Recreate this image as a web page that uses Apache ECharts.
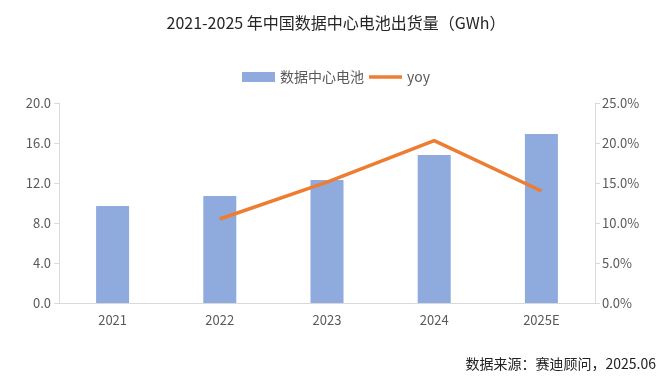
<!DOCTYPE html>
<html><head><meta charset="utf-8">
<script src="https://cdn.jsdelivr.net/npm/echarts@6/dist/echarts.min.js"></script>
<style>html,body{margin:0;padding:0;background:#fff}#c{width:672px;height:383px}</style>
</head><body><div id="c"></div>
<script>
const categories = ['2021','2022','2023','2024','2025E'];
const shipments = [9.7, 10.7, 12.3, 14.8, 16.9];
const yoy = [null, 10.5, 15.1, 20.3, 14.0];
const leftTicks = {min:0, max:20, interval:4};
const rightTicks = {min:0, max:25, interval:5};
const FONT = '"Noto Sans CJK SC", "Noto Sans", sans-serif';
const chart = echarts.init(document.getElementById('c'), null, {renderer:'canvas'});
chart.setOption({
  animation:false,
  backgroundColor:'#fff',
  title:{text:'2021-2025 年中国数据中心电池出货量（GWh）', left:'center', top:10,
    textStyle:{fontFamily:FONT, fontSize:16, fontWeight:'normal', color:'#262626'}},
  graphic:[{type:'text', right:16, top:357, style:{text:'数据来源：赛迪顾问，2025.06', font:'14px '+FONT, fill:'#222'}}],
  legend:{top:65, left:'center', itemGap:5, itemWidth:33, itemHeight:10,
    textStyle:{fontFamily:FONT, fontSize:14, color:'#595959'},
    data:[{name:'数据中心电池', icon:'rect'},
          {name:'yoy', icon:'path://M0,0 L33,0 L33,3.5 L0,3.5 Z'}]},
  grid:{left:59, right:77, top:103, bottom:80},
  xAxis:{type:'category', data:categories,
    axisLine:{lineStyle:{color:'#d9d9d9'}}, axisTick:{show:false},
    axisLabel:{color:'#595959', fontFamily:FONT, fontSize:13, margin:11}},
  yAxis:[
    {type:'value', min:leftTicks.min, max:leftTicks.max, interval:leftTicks.interval,
     splitLine:{show:false}, axisLine:{show:true, lineStyle:{color:'#d9d9d9'}},
     axisTick:{show:true, length:5, lineStyle:{color:'#d9d9d9'}},
     axisLabel:{color:'#595959', fontFamily:FONT, fontSize:13, margin:8, formatter:v=>v.toFixed(1)}},
    {type:'value', min:rightTicks.min, max:rightTicks.max, interval:rightTicks.interval,
     splitLine:{show:false}, axisLine:{show:true, lineStyle:{color:'#d9d9d9'}},
     axisTick:{show:true, length:5, lineStyle:{color:'#d9d9d9'}},
     axisLabel:{color:'#595959', fontFamily:FONT, fontSize:13, margin:7, formatter:v=>v.toFixed(1)+'%'}}
  ],
  series:[
    {name:'数据中心电池', type:'bar', data:shipments, barWidth:33, itemStyle:{color:'#8faadc'}},
    {name:'yoy', type:'line', yAxisIndex:1, data:yoy, symbol:'none', lineStyle:{color:'#ed7d31', width:3.5},
     itemStyle:{color:'#ed7d31'}}
  ]
});
</script></body></html>
